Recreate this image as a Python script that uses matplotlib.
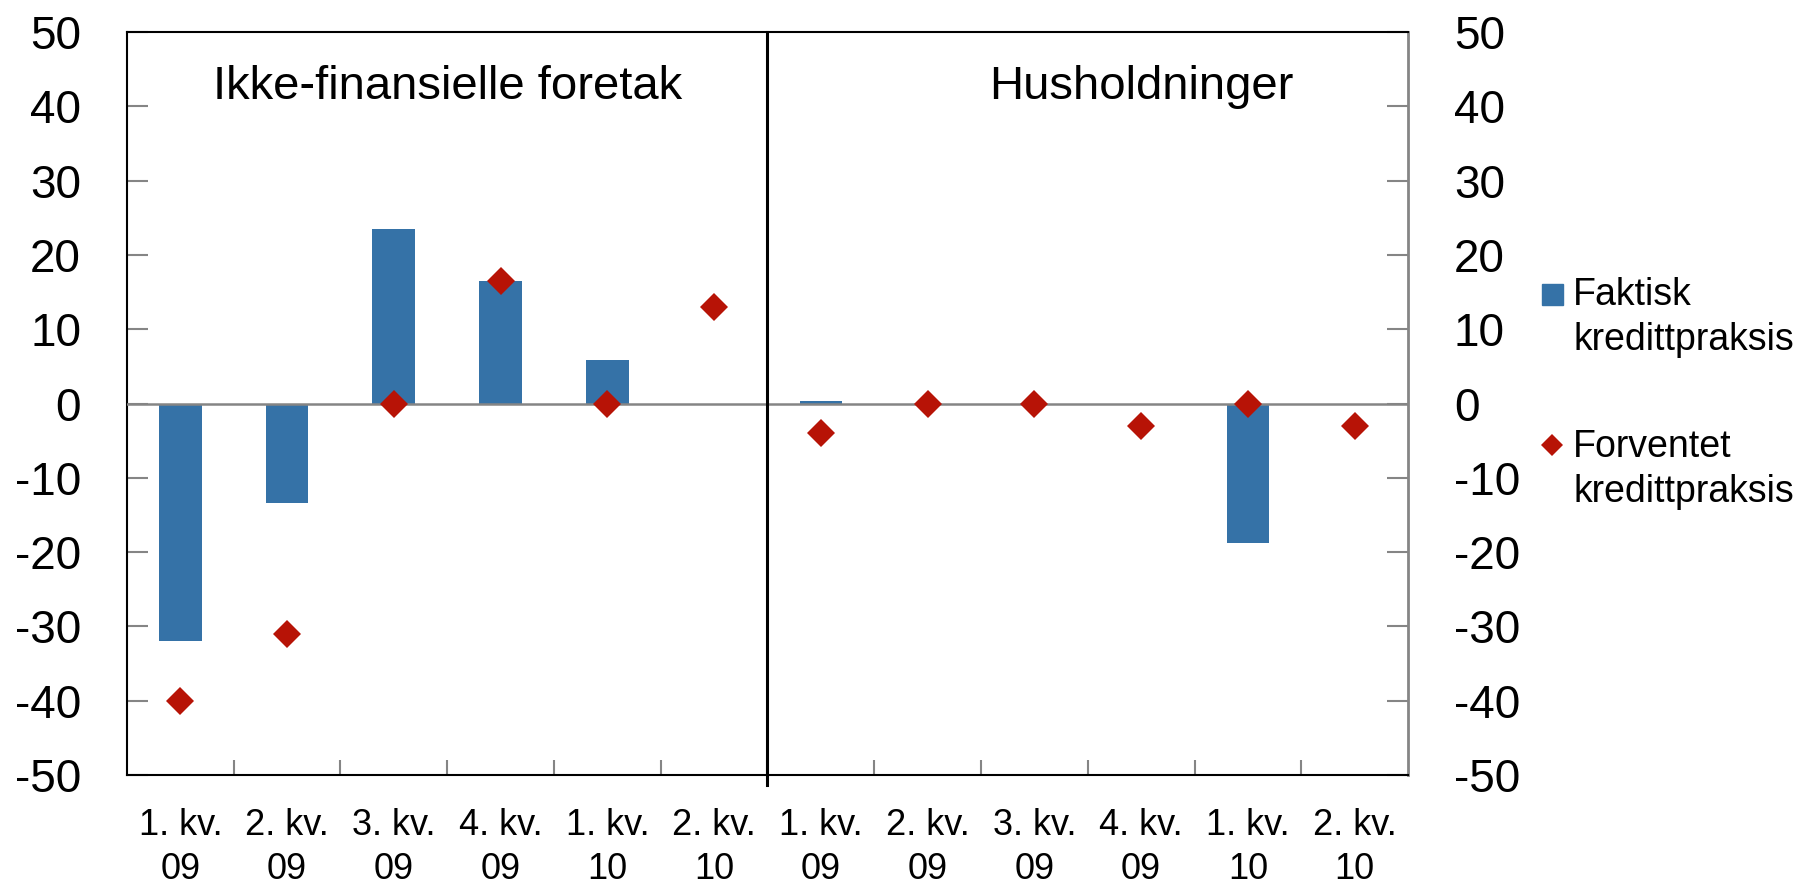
import matplotlib
matplotlib.use("Agg")
import matplotlib.pyplot as plt
from matplotlib.patches import Rectangle
from matplotlib.lines import Line2D
import numpy as np

plt.rcParams['font.family'] = ['Liberation Sans', 'DejaVu Sans']
plt.rcParams['axes.unicode_minus'] = False

# Data
kvartaler = ["1. kv.\n09", "2. kv.\n09", "3. kv.\n09", "4. kv.\n09", "1. kv.\n10", "2. kv.\n10"]
faktisk_foretak = [-32, -13.4, 23.5, 16.5, 5.9, 0]
forventet_foretak = [-40, -31, 0, 16.5, 0, 13]
faktisk_hush = [0.4, 0, 0, 0, -18.8, 0]
forventet_hush = [-4, 0, 0, -3, 0, -3]
paneler = ["Ikke-finansielle foretak", "Husholdninger"]
serier = [("Faktisk", "kredittpraksis"), ("Forventet", "kredittpraksis")]
yticks = list(range(-50, 51, 10))

blue = '#3572a7'
red = '#b71306'
grey = '#858585'

faktisk = faktisk_foretak + faktisk_hush
forventet = forventet_foretak + forventet_hush
labels = kvartaler + kvartaler
x = np.arange(len(labels))

fig = plt.figure(figsize=(17.98, 8.85), dpi=100)
ax = fig.add_axes([0.0706, 0.1243, 0.7125, 0.8395])

ax.bar(x, faktisk, width=0.4, color=blue, zorder=2)
ax.axhline(0, color=grey, lw=1.8, zorder=3)
ax.plot(x, forventet, ls='none', marker='D', ms=14.5, mew=0, color=red, zorder=4)

# separator between panels
ax.axvline(5.5, ymin=-0.014, ymax=1, color='black', lw=2.2, clip_on=False, zorder=5)

ax.set_xlim(-0.5, len(labels) - 0.5)
ax.set_ylim(-50, 50)

ax.set_yticks(yticks)
ax.set_yticklabels([str(v) for v in yticks])
ax.tick_params(axis='y', direction='in', length=15, width=1.5, color=grey,
               left=True, right=True, labelleft=True, labelright=True,
               labelsize=33, pad=33)

ax.set_xticks(np.arange(0.5, len(labels) - 1, 1.0))
ax.set_xticklabels([])
ax.set_xticks(x, minor=True)
ax.set_xticklabels(labels, minor=True)
ax.tick_params(axis='x', which='major', direction='in', length=11, width=1.5, color=grey)
ax.tick_params(axis='x', which='minor', length=0, labelsize=26, pad=24)
for t in ax.get_xticklabels(minor=True):
    t.set_linespacing(1.33)

for s in ['left', 'top', 'bottom']:
    ax.spines[s].set_color('black')
    ax.spines[s].set_linewidth(1.5)
ax.spines['right'].set_color(grey)
ax.spines['right'].set_linewidth(2)

ax.text(2.5, 41, paneler[0], ha='center', va='baseline', fontsize=34)
ax.text(9.0, 41, paneler[1], ha='center', va='baseline', fontsize=34)

# legend drawn by hand so the keys line up with the first text line
W, H = 1798, 885
fig.patches.append(Rectangle((1542 / W, 1 - 305 / H), 21 / W, 21 / H,
                             transform=fig.transFigure, color=blue))
fig.lines.append(Line2D([1552 / W], [1 - 445 / H], transform=fig.transFigure,
                        marker='D', ms=10.7, mew=0, color=red, ls='none'))
for (l1, l2), base in zip(serier, [305, 457]):
    fig.text(1573 / W, 1 - base / H, l1, fontsize=27, va='baseline', ha='left')
    fig.text(1573 / W, 1 - (base + 45) / H, l2, fontsize=27, va='baseline', ha='left')

fig.savefig('out.png', dpi=100)
